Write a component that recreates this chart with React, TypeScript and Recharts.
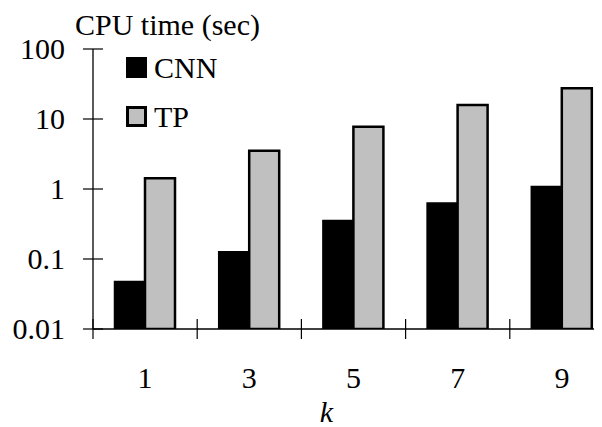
import { BarChart, Bar, XAxis, YAxis, Legend, Label } from 'recharts'

const K_VALUES = ['1', '3', '5', '7', '9']
const CNN_TIME = [0.047, 0.125, 0.35, 0.62, 1.07]
const TP_TIME = [1.42, 3.52, 7.76, 15.8, 27.5]
const Y_TICKS = [0.01, 0.1, 1, 10, 100]

const FONT = '"Liberation Serif", "Times New Roman", serif'
const W = 620
const H = 419
const MARGIN = { top: 41, right: 14, bottom: 0, left: 0 }
const Y_WIDTH = 85
const STEP = (W - MARGIN.left - MARGIN.right - Y_WIDTH) / K_VALUES.length

const data = K_VALUES.map((k, i) => ({ k, CNN: CNN_TIME[i], TP: TP_TIME[i] }))

const YTick = (props: any) => {
  const { x, y, payload } = props
  return (
    <g>
      <line x1={x - 10} x2={x + 10} y1={y} y2={y} stroke="#000" strokeWidth={1.2} />
      <text x={x - 28} y={y} dy="0.34em" textAnchor="end" style={{ fontFamily: FONT }} fontSize={30} fill="#000">
        {payload.value}
      </text>
    </g>
  )
}

const XTick = (props: any) => {
  const { x, y, payload } = props
  const bx = x - STEP / 2
  return (
    <g>
      <line x1={bx} x2={bx} y1={y - 10} y2={y + 10} stroke="#000" strokeWidth={1.2} />
      <text x={x} y={y + 59} textAnchor="middle" style={{ fontFamily: FONT }} fontSize={30} fill="#000">
        {payload.value}
      </text>
    </g>
  )
}

const LegendBox = (props: any) => {
  const { payload } = props
  return (
    <div style={{ fontFamily: FONT, fontSize: 30, color: '#000' }}>
      {(payload || []).map((p: any) => (
        <div key={p.value} style={{ display: 'flex', alignItems: 'flex-end', height: 49 }}>
          <div style={{
            width: 21, height: 21, boxSizing: 'border-box', background: p.payload.fill,
            border: '3px solid #000', marginBottom: 27
          }} />
          <span style={{ marginLeft: 7, lineHeight: '30px', marginBottom: 22 }}>{p.value}</span>
        </div>
      ))}
    </div>
  )
}

export default function App() {
  return (
    <div style={{ width: 594, height: H, overflow: 'hidden' }}>
      <BarChart width={W} height={H} data={data} margin={MARGIN} barGap={0} barSize={30}>
        <XAxis
          dataKey="k"
          height={H - MARGIN.top - 280}
          tickLine={false}
          tickSize={0}
          tickMargin={0}
          tick={<XTick />}
          axisLine={{ stroke: '#000', strokeWidth: 1.3 }}
          interval={0}
        >
          <Label
            content={(p: any) => (
              <text x={p.viewBox.x + p.viewBox.width / 2 - 27} y={p.viewBox.y + 93} textAnchor="middle"
                style={{ fontFamily: FONT }} fontSize={30} fontStyle="italic" fill="#000">k</text>
            )}
          />
        </XAxis>
        <YAxis
          scale="log"
          domain={[0.01, 100]}
          ticks={Y_TICKS}
          allowDataOverflow
          width={Y_WIDTH}
          tickLine={false}
          tickSize={0}
          tickMargin={0}
          tick={<YTick />}
          axisLine={{ stroke: '#000', strokeWidth: 1.3 }}
          interval={0}
        >
          <Label
            content={() => (
              <text x={67} y={27} textAnchor="start" style={{ fontFamily: FONT }} fontSize={30} fill="#000">CPU time (sec)</text>
            )}
          />
        </YAxis>
        <Legend
          layout="vertical"
          align="center"
          verticalAlign="middle"
          content={<LegendBox />}
          wrapperStyle={{ left: 118, top: 48, width: 120, height: 100 }}
        />
        <Bar dataKey="CNN" fill="#000" stroke="#000" strokeWidth={2.5} isAnimationActive={false} />
        <Bar dataKey="TP" fill="#c0c0c0" stroke="#000" strokeWidth={2.5} isAnimationActive={false} />
      </BarChart>
    </div>
  )
}
